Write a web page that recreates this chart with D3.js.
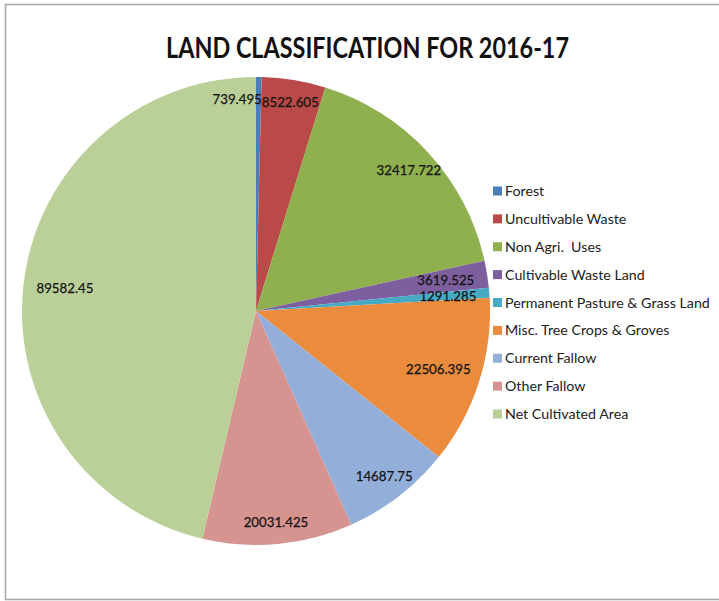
<!DOCTYPE html>
<html>
<head>
<meta charset="utf-8">
<script src="https://cdn.jsdelivr.net/npm/d3@7"></script>
<style>
  html, body { margin: 0; padding: 0; background: #fff; }
  svg { display: block; }
</style>
</head>
<body>
<svg id="chart" width="719" height="601"></svg>
<script>
// Land classification for 2016-17 (area figures)
const title = "LAND CLASSIFICATION FOR 2016-17";
const categories = [
  "Forest",
  "Uncultivable Waste",
  "Non Agri.  Uses",
  "Cultivable Waste Land",
  "Permanent Pasture & Grass Land",
  "Misc. Tree Crops & Groves",
  "Current Fallow",
  "Other Fallow",
  "Net Cultivated Area"
];
const values = [739.495, 8522.605, 32417.722, 3619.525, 1291.285, 22506.395, 14687.75, 20031.425, 89582.45];
const valueLabels = ["739.495", "8522.605", "32417.722", "3619.525", "1291.285", "22506.395", "14687.75", "20031.425", "89582.45"];
const palette = ["#4a7ebb", "#ba4a47", "#8fb04f", "#7d5fa0", "#46aac5", "#ea8b3d", "#93aed9", "#d69491", "#bad098"];

const svg = d3.select("#chart");
const W = 719, H = 601;

// chart frame (left, top and bottom edges visible)
svg.append("rect")
  .attr("x", 5.5).attr("y", 4.5)
  .attr("width", W + 10).attr("height", 595)
  .attr("fill", "#fff")
  .attr("stroke", "#a9a9a9")
  .attr("stroke-width", 1.6);

// helper: measure text width for a given font
function measure(str, family, size, weight) {
  const t = svg.append("text")
    .attr("font-family", family).attr("font-size", size)
    .attr("font-weight", weight || "normal")
    .style("white-space", "pre").text(str);
  const w = t.node().getComputedTextLength();
  t.remove();
  return w;
}

const FONT = "Lato, 'Open Sans', 'DejaVu Sans', sans-serif";

// title
svg.append("text")
  .attr("x", 367.5).attr("y", 58)
  .attr("text-anchor", "middle")
  .attr("font-family", FONT)
  .attr("font-weight", "bold")
  .attr("font-size", 28)
  .attr("fill", "#111")
  .attr("textLength", 403)
  .attr("lengthAdjust", "spacingAndGlyphs")
  .text(title);

// pie
const cx = 256, cy = 311, R = 234;
const color = d3.scaleOrdinal().domain(categories).range(palette);
const pie = d3.pie().sort(null).value(d => d.value);
const arcs = pie(categories.map((c, i) => ({ cat: c, value: values[i], label: valueLabels[i] })));
const arc = d3.arc().innerRadius(0).outerRadius(R);

const g = svg.append("g").attr("transform", `translate(${cx},${cy})`);
g.selectAll("path.slice")
  .data(arcs)
  .join("path")
  .attr("class", "slice")
  .attr("d", arc)
  .attr("fill", d => color(d.data.cat));

// data labels, placed inside the outer end of each slice
const labelSize = 13 * 57 / measure("89582.45", FONT, 13);
const hh = 9;
const labels = arcs.map(d => {
  const a = (d.startAngle + d.endAngle) / 2;
  const s = Math.sin(a), c = Math.cos(a);
  const w = measure(d.data.label, FONT, labelSize);
  const t = Math.min((w / 2) / Math.max(Math.abs(s), 1e-6), hh / Math.max(Math.abs(c), 1e-6));
  const dist = R - 13 - t;
  return { text: d.data.label, x: dist * s, y: -dist * c, w: w, v: d.value };
});
// nudge neighbouring labels apart when they sit on the same line
for (let i = 0; i < labels.length - 1; i++) {
  const A = labels[i], B = labels[i + 1];
  const overlapX = (A.w + B.w) / 2 - Math.abs(A.x - B.x);
  if (overlapX > 0 && Math.abs(A.y - B.y) < hh) {
    const small = A.v < B.v ? A : B, big = small === A ? B : A;
    const dir = small.x < big.x ? -1 : 1;
    small.x += dir * overlapX;
  }
}
g.selectAll("text.dlabel")
  .data(labels)
  .join("text")
  .attr("class", "dlabel")
  .attr("x", d => d.x)
  .attr("y", d => d.y)
  .attr("dy", "0.35em")
  .attr("text-anchor", "middle")
  .attr("font-family", FONT)
  .attr("font-size", labelSize)
  .attr("fill", "#151515")
  .attr("stroke", "#151515")
  .attr("stroke-width", 0.25)
  .text(d => d.text);

// legend
const legendSize = 13 * 205 / measure("Permanent Pasture & Grass Land", FONT, 13);
const ly = d3.scalePoint().domain(categories).range([191, 414]);
const legend = svg.append("g");
const items = legend.selectAll("g")
  .data(categories)
  .join("g")
  .attr("transform", d => `translate(493,${ly(d)})`);
items.append("rect")
  .attr("x", 0).attr("y", -4.5)
  .attr("width", 9).attr("height", 9)
  .attr("fill", d => color(d));
items.append("text")
  .attr("x", 12).attr("y", 0).attr("dy", "0.35em")
  .attr("font-family", FONT)
  .attr("font-size", legendSize)
  .attr("fill", "#222")
  .style("white-space", "pre")
  .text(d => d);
</script>
</body>
</html>
